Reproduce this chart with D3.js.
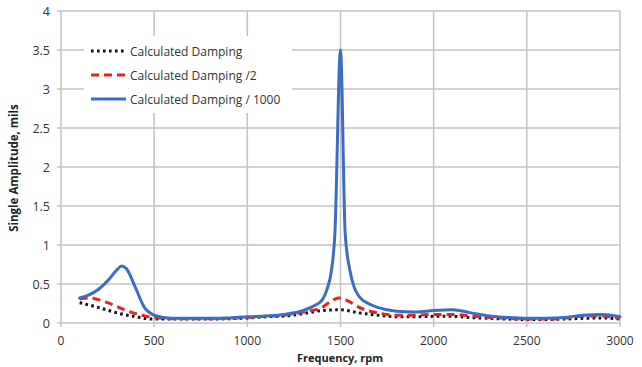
<!DOCTYPE html>
<html>
<head>
<meta charset="utf-8">
<script src="https://cdn.jsdelivr.net/npm/d3@7"></script>
<style>
  html, body { margin: 0; padding: 0; background: #fff; }
  svg { display: block; font-family: "Open Sans", "Noto Sans", sans-serif; }
</style>
</head>
<body>
<svg id="chart" width="642" height="367"></svg>
<script>
// Frequency response of a rotor at three damping levels
const freqFull = [100, 150, 200, 250, 300, 325, 350, 400, 450, 500, 550, 600, 700, 800, 900, 1000, 1100, 1200, 1300, 1350, 1400, 1430, 1450, 1470, 1500, 1525, 1550, 1575, 1600, 1650, 1700, 1800, 1900, 2000, 2100, 2200, 2300, 2400, 2500, 2600, 2700, 2800, 2900, 3000];
const dampingFull = [0.32, 0.36, 0.43, 0.54, 0.68, 0.73, 0.70, 0.45, 0.19, 0.10, 0.07, 0.06, 0.06, 0.06, 0.065, 0.08, 0.09, 0.11, 0.16, 0.21, 0.29, 0.45, 0.65, 1.15, 3.5, 1.15, 0.68, 0.45, 0.34, 0.25, 0.20, 0.15, 0.14, 0.16, 0.17, 0.13, 0.09, 0.07, 0.06, 0.06, 0.07, 0.10, 0.11, 0.08];

const freqHalf = [100, 150, 200, 250, 300, 350, 400, 450, 500, 600, 700, 800, 900, 1000, 1100, 1200, 1300, 1400, 1450, 1490, 1550, 1600, 1700, 1800, 1900, 2000, 2100, 2200, 2300, 2400, 2500, 2600, 2700, 2800, 2900, 3000];
const dampingHalf = [0.31, 0.32, 0.30, 0.26, 0.21, 0.16, 0.12, 0.09, 0.07, 0.055, 0.055, 0.055, 0.06, 0.07, 0.085, 0.10, 0.14, 0.20, 0.28, 0.32, 0.27, 0.20, 0.13, 0.10, 0.10, 0.11, 0.11, 0.09, 0.07, 0.06, 0.05, 0.05, 0.06, 0.09, 0.09, 0.06];

const freqBase = [100, 200, 300, 400, 500, 600, 700, 800, 900, 1000, 1100, 1200, 1300, 1400, 1500, 1600, 1700, 1800, 1900, 2000, 2100, 2200, 2300, 2400, 2500, 2600, 2700, 2800, 2900, 3000];
const dampingBase = [0.26, 0.20, 0.13, 0.08, 0.05, 0.05, 0.05, 0.05, 0.055, 0.065, 0.08, 0.09, 0.12, 0.16, 0.17, 0.13, 0.10, 0.08, 0.08, 0.085, 0.085, 0.07, 0.06, 0.05, 0.045, 0.045, 0.05, 0.06, 0.065, 0.05];

const xTicks = [0, 500, 1000, 1500, 2000, 2500, 3000];
const yTicks = [0, 0.5, 1, 1.5, 2, 2.5, 3, 3.5, 4];
const seriesNames = ["Calculated Damping", "Calculated Damping /2", "Calculated Damping / 1000"];

const svg = d3.select("#chart");
const plotLeft = 61, plotRight = 620, plotTop = 11, plotBottom = 323;

const x = d3.scaleLinear().domain([0, 3000]).range([plotLeft, plotRight]);
const y = d3.scaleLinear().domain([0, 4]).range([plotBottom, plotTop]);

const gridColor = "#c2c2c2";

// vertical grid lines, with a short tick below the axis
svg.append("g").selectAll("line").data(xTicks).join("line")
  .attr("x1", d => x(d)).attr("x2", d => x(d))
  .attr("y1", plotTop).attr("y2", plotBottom + 4)
  .attr("stroke", gridColor).attr("stroke-width", 1.5);

// horizontal grid lines, with a short tick left of the axis
svg.append("g").selectAll("line").data(yTicks).join("line")
  .attr("x1", plotLeft - 4).attr("x2", plotRight)
  .attr("y1", d => y(d)).attr("y2", d => y(d))
  .attr("stroke", gridColor).attr("stroke-width", 1.5);

// tick labels
svg.append("g").selectAll("text").data(yTicks).join("text")
  .attr("x", plotLeft - 11).attr("y", d => y(d) + 4.5)
  .attr("text-anchor", "end")
  .attr("font-size", 12.5).attr("fill", "#333")
  .text(d => d);

svg.append("g").selectAll("text").data(xTicks).join("text")
  .attr("x", d => x(d)).attr("y", 345)
  .attr("text-anchor", "middle")
  .attr("font-size", 12).attr("fill", "#333")
  .text(d => d);

// axis titles
svg.append("text")
  .attr("x", 340).attr("y", 362)
  .attr("text-anchor", "middle")
  .attr("font-size", 11).attr("font-weight", "bold").attr("fill", "#222")
  .text("Frequency, rpm");

svg.append("text")
  .attr("transform", "translate(18,168) rotate(-90)")
  .attr("text-anchor", "middle")
  .attr("font-size", 11.5).attr("font-weight", "bold").attr("fill", "#222")
  .text("Single Amplitude, mils");

// response curves
const line = d3.line().x(d => x(d[0])).y(d => y(d[1])).curve(d3.curveMonotoneX);

const series = [
  { f: freqBase, v: dampingBase, color: "#111", width: 3, dash: "2.6,3.4", cap: "butt" },
  { f: freqHalf, v: dampingHalf, color: "#e52421", width: 3, dash: "8,5", cap: "butt" },
  { f: freqFull, v: dampingFull, color: "#3b6dc2", width: 3, dash: null, cap: "round" }
];

series.forEach(s => {
  svg.append("path")
    .datum(d3.zip(s.f, s.v))
    .attr("d", line)
    .attr("fill", "none")
    .attr("stroke", s.color)
    .attr("stroke-width", s.width)
    .attr("stroke-linejoin", "round")
    .attr("stroke-linecap", s.cap)
    .attr("stroke-dasharray", s.dash);
});

// legend
const legend = svg.append("g");
legend.append("rect")
  .attr("x", 84).attr("y", 36).attr("width", 208).attr("height", 77)
  .attr("fill", "#fff");

series.forEach((s, i) => {
  const ly = 51 + i * 24;
  legend.append("line")
    .attr("x1", 91).attr("x2", 126)
    .attr("y1", ly).attr("y2", ly)
    .attr("stroke", s.color).attr("stroke-width", s.width)
    .attr("stroke-dasharray", s.dash);
  legend.append("text")
    .attr("x", 130).attr("y", ly + 4.5)
    .attr("font-size", 12).attr("fill", "#333")
    .text(seriesNames[i]);
});
</script>
</body>
</html>
